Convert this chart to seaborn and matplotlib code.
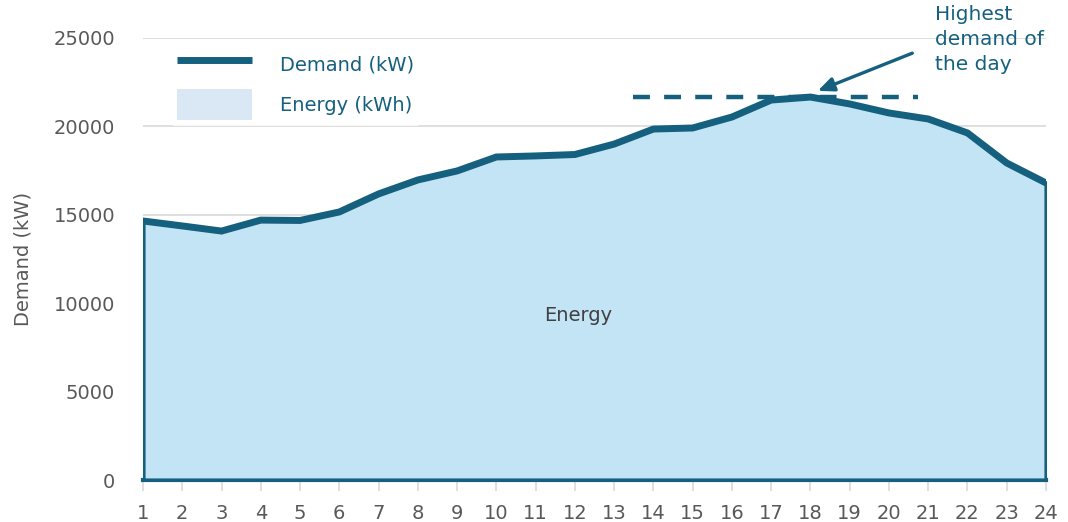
import matplotlib
matplotlib.use("Agg")
import matplotlib.pyplot as plt
import seaborn as sns
import pandas as pd
from matplotlib.lines import Line2D
from matplotlib.patches import Patch

hours = list(range(1, 25))
demand = [14650, 14370, 14080, 14700, 14680, 15160, 16180, 16970, 17480, 18270,
          18330, 18410, 19000, 19850, 19910, 20530, 21490, 21660, 21270, 20760,
          20420, 19630, 17930, 16800]
yticks = [0, 5000, 10000, 15000, 20000, 25000]

DARK = "#15607F"
FILL = "#C2E4F4"
LEG_FILL = "#DAE8F5"
GRAY = "#595959"

sns.set_theme(style="white")
plt.rcParams['font.family'] = ['DejaVu Sans']

df = pd.DataFrame({"hour": hours, "demand": demand})

fig = plt.figure(figsize=(10.68, 5.22), dpi=100)
ax = fig.add_axes([143/1068, 42/522, (1046-143)/1068, (480-38)/522])

for y in yticks[1:]:
    ax.axhline(y, color="#D9D9D9", lw=1.2, zorder=0)

ax.fill_between(df["hour"], 0, df["demand"], facecolor=FILL, edgecolor=DARK,
                linewidth=3, zorder=2)
sns.lineplot(data=df, x="hour", y="demand", color=DARK, lw=5, ax=ax, zorder=3,
             solid_joinstyle="miter")

peak = max(demand)
ax.hlines(peak, 13.48, 20.74, colors=DARK, linestyles=(0, (3.8, 3.2)), lw=3.2, zorder=4)
ax.annotate("", xy=(18.12, 21950), xytext=(20.66, 24200),
            arrowprops=dict(arrowstyle="-|>,head_length=0.8,head_width=0.35",
                            color=DARK, lw=2.4), annotation_clip=False)
ax.text(21.17, 26850, "Highest\ndemand of\nthe day", color=DARK, fontsize=14.5,
        va="top", ha="left", linespacing=1.4, clip_on=False)
ax.text(12.08, 9330, "Energy", color="#404040", fontsize=14, ha="center", va="center")

ax.set_xlim(1, 24)
ax.set_ylim(0, 25000)
ax.set_xticks(hours)
ax.set_xticklabels([str(h) for h in hours])
ax.set_yticks(yticks)
ax.set_yticklabels([str(y) for y in yticks])
ax.tick_params(axis="x", colors="#D9D9D9", labelcolor=GRAY, labelsize=14,
               length=8, width=1.2, direction="out", pad=9, bottom=True)
ax.tick_params(axis="y", labelcolor=GRAY, labelsize=14, length=0, pad=20)
for s in ["top", "right", "left"]:
    ax.spines[s].set_visible(False)
ax.spines["bottom"].set_color(DARK)
ax.spines["bottom"].set_linewidth(3)
ax.spines["bottom"].set_zorder(1)
ax.set_xlabel("")
ax.set_ylabel("Demand (kW)", color=GRAY, fontsize=14, labelpad=15)

handles = [Line2D([0], [0], color=DARK, lw=5, solid_capstyle="butt"),
           Patch(facecolor=LEG_FILL, edgecolor="none")]
leg = ax.legend(handles, ["Demand (kW)", "Energy (kWh)"], loc="upper left",
                bbox_to_anchor=(0.02, 1.01), frameon=True, fontsize=14,
                handlelength=3.9, handleheight=2.1, labelspacing=0.45,
                handletextpad=1.4, borderpad=0.3)
leg.get_frame().set_facecolor("white")
leg.get_frame().set_edgecolor("none")
for t in leg.get_texts():
    t.set_color(DARK)

fig.savefig("out.png", dpi=100)
